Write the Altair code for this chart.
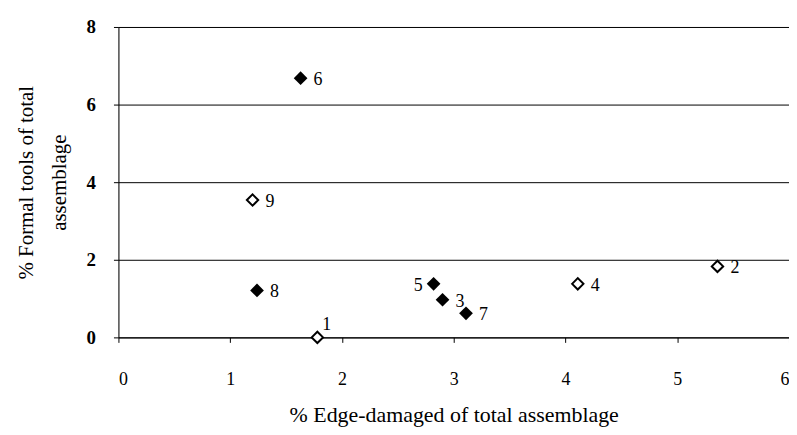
import altair as alt
import pandas as pd

labels = ["1", "2", "3", "4", "5", "6", "7", "8", "9"]
edge_damaged = [1.78, 5.36, 2.90, 4.11, 2.82, 1.63, 3.11, 1.24, 1.20]
formal_tools = [0.0, 1.83, 0.97, 1.38, 1.38, 6.68, 0.62, 1.21, 3.54]
filled = [False, False, True, False, True, True, True, True, False]
label_side = ["above", "right", "right", "right", "left", "right", "right", "right", "right"]

df = pd.DataFrame({
    "x": edge_damaged,
    "y": formal_tools,
    "label": labels,
    "filled": filled,
    "side": label_side,
})

FONT = "Times New Roman, Liberation Serif, DejaVu Serif, serif"

xs = alt.Scale(domain=[0, 6], nice=False, zero=False)
ys = alt.Scale(domain=[0, 8], nice=False, zero=False)

xenc = alt.X("x:Q", scale=xs, axis=alt.Axis(
    values=[0, 1, 2, 3, 4, 5, 6], grid=False, domainColor="black", tickColor="black",
    tickSize=5, labelPadding=28, labelFont=FONT, labelFontSize=18, labelColor="black",
    title="% Edge-damaged of total assemblage", titleFont=FONT, titleFontSize=22,
    titleFontWeight="normal", titleColor="black", titlePadding=17,
))
yenc = alt.Y("y:Q", scale=ys, axis=alt.Axis(
    values=[0, 2, 4, 6, 8], grid=True, gridColor="black", gridWidth=1,
    domainColor="black", tickColor="black", tickSize=5, labelPadding=18,
    labelFont=FONT, labelFontSize=19, labelFontWeight="bold", labelColor="black",
    title=["% Formal tools  of total", "assemblage"], titleFont=FONT, titleFontSize=21,
    titleFontWeight="normal", titleColor="black", titlePadding=17,
    titleLineHeight=33,
))

base = alt.Chart(df)

points_filled = base.transform_filter("datum.filled").mark_point(
    shape="diamond", filled=True, color="black", size=190, opacity=1
).encode(x=xenc, y=yenc)

points_open = base.transform_filter("!datum.filled").mark_point(
    shape="diamond", filled=False, stroke="black", fill="white", fillOpacity=1,
    strokeWidth=2, size=130, opacity=1
).encode(x=xenc, y=yenc)

txt_right = base.transform_filter("datum.side == 'right'").mark_text(
    align="left", baseline="middle", dx=13, dy=2, font=FONT, fontSize=18, color="black"
).encode(x=xenc, y=yenc, text="label:N")

txt_left = base.transform_filter("datum.side == 'left'").mark_text(
    align="right", baseline="middle", dx=-11, dy=2, font=FONT, fontSize=18, color="black"
).encode(x=xenc, y=yenc, text="label:N")

txt_above = base.transform_filter("datum.side == 'above'").mark_text(
    align="left", baseline="middle", dx=5, dy=-12, font=FONT, fontSize=18, color="black"
).encode(x=xenc, y=yenc, text="label:N")

chart = alt.layer(points_open, points_filled, txt_right, txt_left, txt_above).properties(
    width=674, height=312,
    autosize=alt.AutoSizeParams(type="none"),
    padding={"left": 111, "top": 18, "right": 0, "bottom": 89},
).configure_view(stroke="black", strokeWidth=1).configure(background="white")

chart.save("out.html", embed_options={"renderer": "svg", "actions": False})
